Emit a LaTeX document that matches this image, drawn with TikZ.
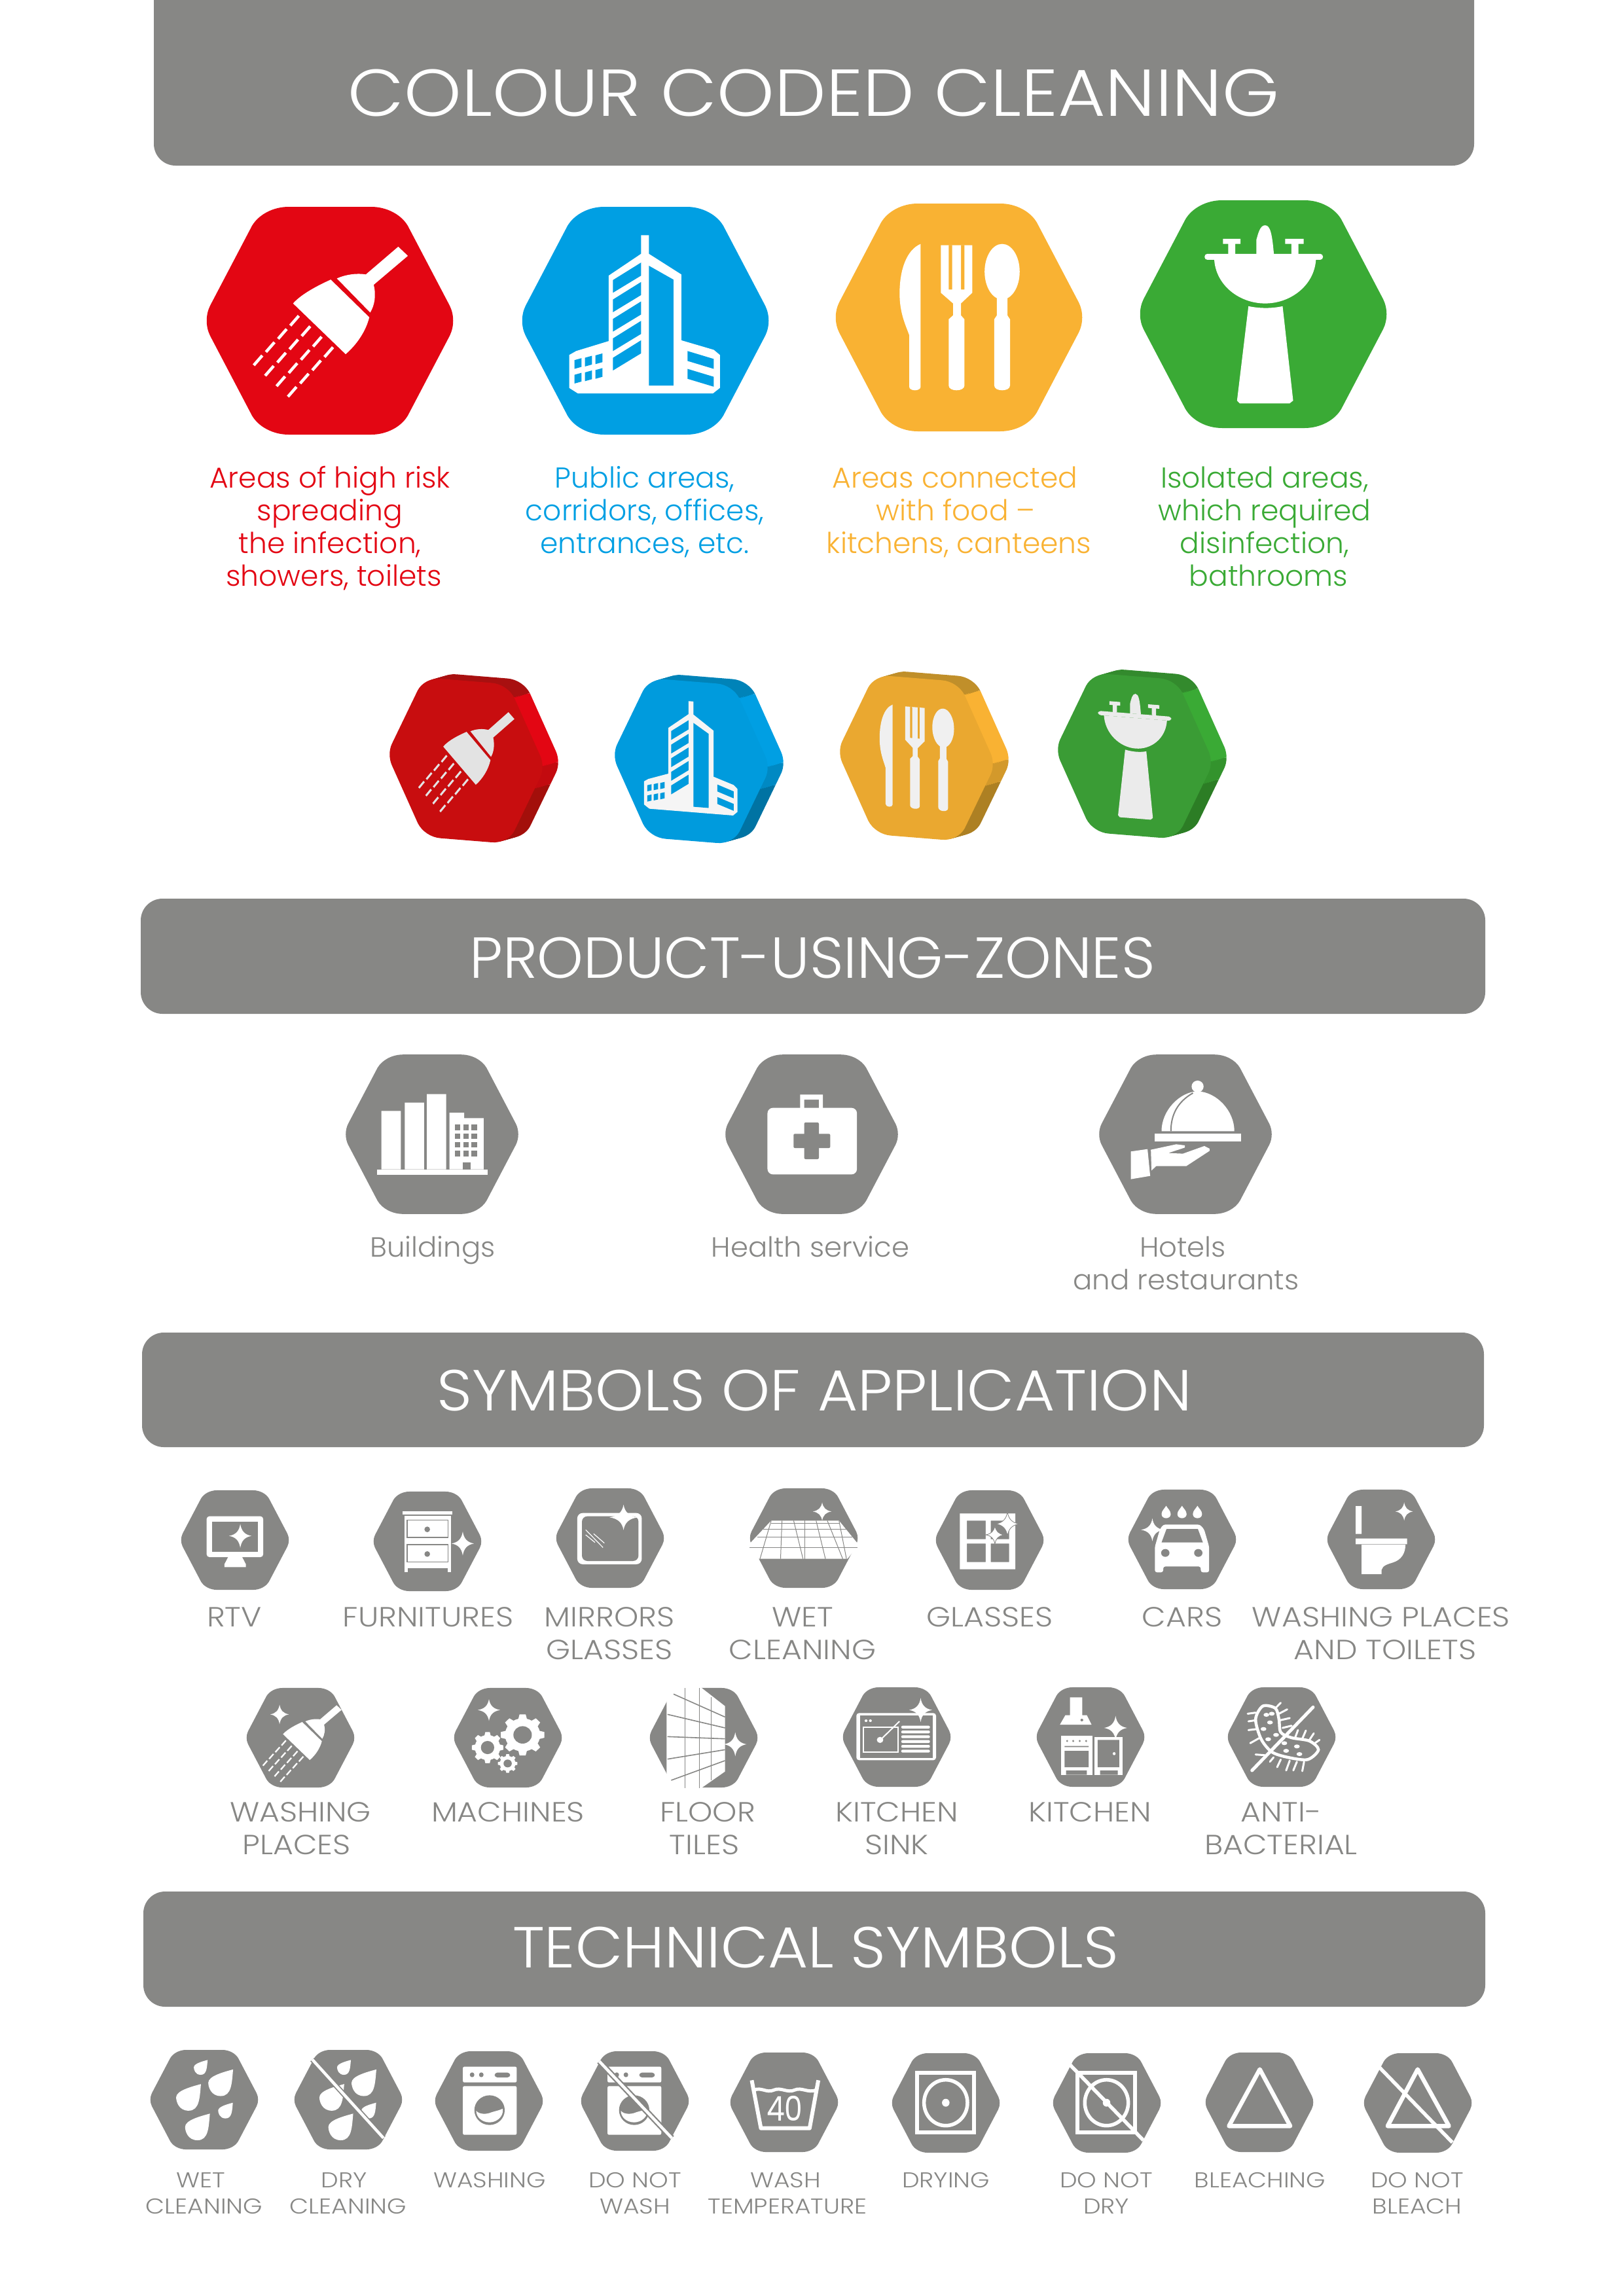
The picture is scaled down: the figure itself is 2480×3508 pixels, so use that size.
\documentclass[tikz,border=0pt]{standalone}
\usepackage{graphicx}
\usepackage{fontspec}
\setmainfont{Poppins Light}
\newfontfamily\numfont{Poppins}
\definecolor{hxgrey}{HTML}{878785}
\definecolor{hxred}{HTML}{E30613}
\definecolor{hxblue}{HTML}{009FE3}
\definecolor{hxorange}{HTML}{F9B233}
\definecolor{hxgreen}{HTML}{3AAA35}
\definecolor{fcred}{HTML}{C80D0F}
\definecolor{fcblue}{HTML}{009BDD}
\definecolor{fcorange}{HTML}{EAA830}
\definecolor{fcgreen}{HTML}{3A9C35}
\definecolor{lored}{HTML}{A30F0B}
\definecolor{loblue}{HTML}{0073A3}
\definecolor{loorange}{HTML}{AD8023}
\definecolor{logreen}{HTML}{2C7D25}
\definecolor{upred}{HTML}{A81010}
\definecolor{upblue}{HTML}{0083B8}
\definecolor{uporange}{HTML}{C08F2A}
\definecolor{upgreen}{HTML}{338A2D}
\definecolor{icred}{HTML}{E3E3E3}
\definecolor{icblue}{HTML}{F5F5F5}
\definecolor{icorange}{HTML}{F0F0F0}
\definecolor{icgreen}{HTML}{EBEBEB}
\colorlet{icofg}{white}
\colorlet{icobg}{hxblue}

\tikzset{
  wl/.style={draw=white,line width=#1*.24pt},
  gl/.style={draw=hxgrey,line width=#1*.24pt},
  bartext/.style={anchor=base,text=white,font=\fontsize{#1}{#1}\selectfont},
  biglabel/.style={anchor=base,text=#1,font=\fontsize{10.6}{12}\selectfont},
  smlabel/.style={anchor=base,text=hxgrey,font=\fontsize{10.2}{12}\selectfont},
  tinylabel/.style={anchor=base,text=hxgrey,font=\fontsize{7.9}{10}\selectfont}
}
\newcommand{\capw}[1]{\scalebox{1.12}[1]{#1}}
\newcommand{\tinyw}[1]{\scalebox{1.15}[1]{#1}}

% hexagon round (0,0), 190 wide to each side
\newcommand{\hexpath}{(-63,-174) -- (63,-174) .. controls (87,-174) and (109,-162) .. (119,-145)
  -- (183,-23) .. controls (190,-9) and (190,9) .. (183,23)
  -- (119,145) .. controls (109,162) and (87,174) .. (63,174)
  -- (-63,174) .. controls (-87,174) and (-109,162) .. (-119,145)
  -- (-183,23) .. controls (-190,9) and (-190,-9) .. (-183,-23)
  -- (-119,-145) .. controls (-109,-162) and (-87,-174) .. (-63,-174) -- cycle}
\newcommand{\sparkpath}{(0,-1) .. controls (.1,-.4) and (.4,-.1) .. (1,0) .. controls (.4,.1) and (.1,.4) .. (0,1)
  .. controls (-.1,.4) and (-.4,.1) .. (-1,0) .. controls (-.4,-.1) and (-.1,-.4) .. (0,-1) -- cycle}
\newcommand{\hexa}[4]{\fill[#4,shift={(#1,#2)},scale=#3] \hexpath;}
\newcommand{\twinkle}[4]{\fill[white,shift={(#1,#2)},xscale=#3,yscale=#4] \sparkpath;}
\newcommand{\twinkleo}[4]{\fill[white,draw=hxgrey,line width=.2pt,shift={(#1,#2)},xscale=#3,yscale=#4] \sparkpath;}
\newcommand{\tear}[4]{\fill[white,shift={(#1,#2)},xscale=#3,yscale=#4]
  (1,-1) .. controls (.9,0) and (.9,1) .. (0,1) .. controls (-.8,1) and (-1,.3) .. (-1,0)
  .. controls (-1,-.5) and (.2,-.8) .. (1,-1) -- cycle;}
\newcommand{\gear}[4]{
  \begin{scope}[shift={(#1,#2)},xscale=#3,yscale=#4]
    \fill[white] (0,0) circle (.8);
    \foreach \ang in {0,45,...,315}
      \fill[white] (\ang-16:.75) -- (\ang-8:1) -- (\ang+8:1) -- (\ang+16:.75) -- cycle;
    \fill[hxgrey] (0,0) circle (.42);
  \end{scope}
}

% the four big icons, drawn round (0,0)
\newcommand{\icoBroom}{
  \begin{scope}[shift={(-304,-490)},xscale=1.339,yscale=.606]
    \fill[icofg] (185,765) .. controls (195,740) and (215,718) .. (228,705) -- (272,800)
      .. controls (268,835) and (258,868) .. (245,893) -- cycle;
    \fill[icofg] (235,702) .. controls (245,692) and (258,688) .. (268,692) -- (305,622) -- (316,645) -- (277,718)
      .. controls (280,745) and (278,770) .. (273,788) -- cycle;
  \end{scope}
  \foreach \ii/\jj in {0/0,1/0,1/1,2/0,2/1,2/2,3/0,3/1,3/2,3/3,4/1,4/2,4/3,5/2,5/3,6/3}
    \fill[icofg,shift={(\ii*17.4-\jj*36-54,\ii*16+\jj*4.2)}] (-4.8,8.9) -- (-8.2,6) -- (4.8,-8.9) -- (8.2,-6) -- cycle;
}
\newcommand{\icoTower}{
  \begin{scope}[shift={(-786,-490)},xscale=1.339,yscale=.606]
    \fill[icofg] (582,593) -- (591,593) -- (591,640) -- (628,692) -- (628,858) -- (665,882) -- (672,895)
      -- (672,978) -- (664,992) -- (510,992) -- (500,978) -- (500,895) -- (508,885) -- (545,860) -- (545,695) -- (582,640) -- cycle;
    \fill[icobg] (591,670) -- (619,705) -- (619,972) -- (591,972) -- cycle;
    \fill[icobg] (635,885) -- (665,905) -- (665,930) -- (635,910) -- cycle;
    \fill[icobg] (635,930) -- (665,950) -- (665,975) -- (635,955) -- cycle;
    \foreach \kk in {0,...,4}
      \fill[icobg] (550,706+49*\kk) -- (582,662+49*\kk) -- (582,695+49*\kk) -- (550,738+49*\kk) -- cycle;
    \foreach \cc in {0,1,2}{
      \fill[icobg] (506+12*\cc,908-6*\cc) -- (514+12*\cc,903-6*\cc) -- (514+12*\cc,925-6*\cc) -- (506+12*\cc,930-6*\cc) -- cycle;
      \fill[icobg] (506+12*\cc,945-6*\cc) -- (514+12*\cc,940-6*\cc) -- (514+12*\cc,962-6*\cc) -- (506+12*\cc,967-6*\cc) -- cycle;
    }
  \end{scope}
}
\newcommand{\icoFood}{
  \begin{scope}[shift={(-1265,-485)},xscale=1.339,yscale=.606]
    \fill[icofg] (901,615) .. controls (885,630) and (877,680) .. (877,740) .. controls (877,790) and (884,820) .. (888,845)
      -- (888,975) .. controls (888,987) and (901,987) .. (901,975) -- cycle;
    \fill[icofg,even odd rule] (924,618) -- (924,738) -- (938,765) -- (938,795) -- (933,805) -- (933,972)
      .. controls (933,988) and (951,988) .. (951,972) -- (951,805) -- (947,795) -- (947,765) -- (960,738) -- (960,618) -- cycle
      (933,618) rectangle (937,730) (947,618) rectangle (951,730);
    \fill[icofg] (994,685) ellipse [x radius=20,y radius=70];
    \fill[icofg] (988,745) -- (988,795) -- (985,805) -- (985,972) .. controls (985,988) and (1003,988) .. (1003,972)
      -- (1003,805) -- (1000,795) -- (1000,745) -- cycle;
  \end{scope}
}
\newcommand{\icoSink}{
  \begin{scope}[shift={(-1730,-480)},xscale=1.339,yscale=.606]
    \fill[icofg,rounded corners=1pt] (1225,640) rectangle (1360,655);
    \fill[icofg] (1236,655) .. controls (1238,720) and (1265,765) .. (1294,765) .. controls (1323,765) and (1350,720) .. (1352,655) -- cycle;
    \fill[icofg] (1246,602) rectangle (1266,615) (1252,615) rectangle (1260,640);
    \fill[icofg] (1317,602) rectangle (1338,615) (1324,615) rectangle (1332,640);
    \fill[icofg] (1284,640) -- (1284,605) .. controls (1286,590) and (1288,568) .. (1294,568)
      .. controls (1300,568) and (1302,590) .. (1304,640) -- cycle;
    \fill[icofg] (1275,772) .. controls (1288,778) and (1302,778) .. (1314,772) -- (1326,1010) -- (1322,1017) -- (1265,1017) -- (1262,1010) -- cycle;
  \end{scope}
}
% thick hexagon of the second row
\newcommand{\threeD}[8]{
  \foreach \st in {8,7,...,1}{
    \begin{scope}[shift={(#1+\st*3,#2-\st*.85)},cm={.62,-.05,0,.70,(0,0)}]
      \begin{scope} \clip (-260,-200) rectangle (260,-145); \fill[#5] \hexpath; \end{scope}
      \begin{scope} \clip (-260,-145) rectangle (260,0); \fill[#3] \hexpath; \end{scope}
      \begin{scope} \clip (-260,0) rectangle (260,50); \fill[#3!50!#4] \hexpath; \end{scope}
      \begin{scope} \clip (-260,50) rectangle (260,200); \fill[#4] \hexpath; \end{scope}
    \end{scope}
  }
  \begin{scope}[shift={(#1,#2)},cm={.62,-.05,0,.70,(0,0)}]
    \fill[#6] \hexpath;
    \colorlet{icofg}{#8}
    \colorlet{icobg}{#6}
    #7
  \end{scope}
}

\begin{document}
\begin{tikzpicture}[x=0.0084677cm,y=-0.0084677cm]
  \useasboundingbox (0,0) rectangle (2480,3508);

  % header bars
  \fill[hxgrey,rounded corners=8pt] (235,-60) rectangle (2252,253);
  \fill[hxgrey,rounded corners=8pt] (215,1373) rectangle (2269,1549);
  \fill[hxgrey,rounded corners=8pt] (217,2036) rectangle (2267,2211);
  \fill[hxgrey,rounded corners=8pt] (219,2890) rectangle (2269,3066);
  \node[bartext=24.4] (title) at (1243,177) {\scalebox{1.10}[1]{COLOUR CODED CLEANING}};
  \node[bartext=21.3] (zones) at (1241,1494) {\scalebox{1.018}[1]{PRODUCT-USING-ZONES}};
  \node[bartext=21.3] (symbols) at (1244,2155) {\scalebox{1.064}[1]{SYMBOLS OF APPLICATION}};
  \node[bartext=21.3] (technical) at (1246,3006) {\scalebox{1.062}[1]{TECHNICAL SYMBOLS}};

  % big coloured hexagons
  \hexa{504}{490}{1}{hxred} \begin{scope}[shift={(504,490)}] \icoBroom \end{scope}
  \hexa{986}{490}{1}{hxblue} \begin{scope}[shift={(986,490)}] \icoTower \end{scope}
  \hexa{1465}{485}{1}{hxorange} \begin{scope}[shift={(1465,485)}] \icoFood \end{scope}
  \hexa{1930}{480}{1}{hxgreen} \begin{scope}[shift={(1930,480)}] \icoSink \end{scope}

  \foreach \nm/\x/\y/\txt in {ra/504/745/{Areas of high risk},rb/504/795/{spreading},rc/504/845/{the infection,},rd/510/895/{showers, toilets}}
    \node[biglabel=hxred] (\nm) at (\x,\y) {\txt};
  \foreach \nm/\x/\y/\txt in {ba/985/745/{Public areas,},bb/985/795/{corridors, offices,},bc/985/845/{entrances, etc.}}
    \node[biglabel=hxblue] (\nm) at (\x,\y) {\txt};
  \foreach \nm/\x/\y/\txt in {oa/1459/745/{Areas connected},ob/1460/795/{with food --},oc/1465/845/{kitchens, canteens}}
    \node[biglabel=hxorange] (\nm) at (\x,\y) {\txt};
  \foreach \nm/\x/\y/\txt in {ga/1932/745/{Isolated areas,},gb/1932/795/{which required},gc/1932/845/{disinfection,},gd/1938/895/{bathrooms}}
    \node[biglabel=hxgreen] (\nm) at (\x,\y) {\txt};

  % second row, thick hexagons
  \threeD{712}{1162}{hxred}{lored}{upred}{fcred}{\icoBroom}{icred}
  \threeD{1056}{1163}{hxblue}{loblue}{upblue}{fcblue}{\icoTower}{icblue}
  \threeD{1400}{1158}{hxorange}{loorange}{uporange}{fcorange}{\icoFood}{icorange}
  \threeD{1733}{1155}{hxgreen}{logreen}{upgreen}{fcgreen}{\icoSink}{icgreen}

  % zones
  \hexa{660}{1733}{.7}{hxgrey}
  \hexa{1240}{1733}{.7}{hxgrey}
  \hexa{1811}{1733}{.7}{hxgrey}
  \begin{scope}[shift={(450,1580)},xscale=1.0204,yscale=.3333]
    \fill[white] (130,352) rectangle (159,620) (165,314) rectangle (194,620) (198,275) rectangle (227,620);
    \fill[white] (232,360) -- (254,360) -- (254,385) -- (283,385) -- (283,620) -- (232,620) -- cycle;
    \fill[white] (123,622) rectangle (289,645);
    \foreach \cc in {240,253,265} \foreach \rr in {415,455,495,535}
      \fill[hxgrey] (\cc,\rr) rectangle (\cc+8,\rr+25);
    \fill[hxgrey] (252,588) rectangle (264,620);
    % case
    \fill[white,even odd rule] (757,277) rectangle (791,340) (763,300) rectangle (785,340);
    \fill[white,rounded corners=2pt] (708,338) rectangle (842,643);
    \fill[hxgrey,rounded corners=.5pt] (763,405) rectangle (785,573);
    \fill[hxgrey,rounded corners=.5pt] (747,457) rectangle (802,522);
    % tray
    \fill[white] (1352,240) ellipse [x radius=9,y radius=27];
    \fill[white] (1298,445) .. controls (1298,350) and (1325,265) .. (1352,262) .. controls (1380,265) and (1407,350) .. (1407,445) -- cycle;
    \draw[gl=2] (1345,270) .. controls (1322,310) and (1312,370) .. (1312,445);
    \fill[white] (1288,456) rectangle (1417,491);
    \fill[white] (1252,538) -- (1277,527) -- (1281,650) -- (1252,665) -- cycle;
    \fill[white] (1282,530) -- (1320,505) -- (1333,510) -- (1333,520) -- (1308,545) -- (1330,548) -- (1362,513) -- (1370,525)
      -- (1370,535) -- (1335,605) -- (1290,605) -- (1283,625) -- cycle;
  \end{scope}
  \foreach \nm/\x/\y/\txt in {za/661/1920/{Buildings},zb/1238/1920/{Health service},zc/1807/1920/{Hotels},zd/1812/1970/{and restaurants}}
    \node[smlabel] (\nm) at (\x,\y) {\scalebox{1.025}[1]{\txt}};

  % symbols, first row
  \foreach \x/\y in {359/2353,653/2355,932/2350,1228/2350,1512/2353,1806/2352,2110/2352}{
    \hexa{\x}{\y}{.437}{hxgrey}
  }
  \begin{scope}[shift={(220,2250)},xscale=.714,yscale=.3333]
    \fill[white,rounded corners=1pt] (134,200) rectangle (255,387);
    \fill[hxgrey] (146,224) rectangle (244,364);
    \twinkle{206}{290}{24}{55}
    \fill[white] (180,387) -- (172,420) -- (172,433) -- (218,433) -- (218,420) -- (210,387) -- cycle;
    % chest
    \fill[white] (553,176) rectangle (660,192);
    \fill[white] (557,197) rectangle (657,455);
    \fill[hxgrey] (565,437) rectangle (650,455);
    \draw[gl=1.2] (563,217) rectangle (650,297) (563,330) rectangle (650,410);
    \fill[hxgrey] (606,260) ellipse [x radius=6,y radius=13] (606,373) ellipse [x radius=6,y radius=13];
    \twinkle{682}{325}{24}{55}
    % mirror
    \fill[white,rounded corners=2pt] (927,185) rectangle (1065,420);
    \fill[hxgrey,rounded corners=2pt] (937,200) rectangle (1058,405);
    \twinkle{1026}{205}{30}{58}
    \draw[wl=1.2] (945,262) -- (982,343) (962,280) -- (985,323) (945,285) -- (965,320);
    % floor
    \fill[white] (1342,220) -- (1487,220) -- (1527,325) -- (1525,342) -- (1505,395) -- (1315,395) -- (1298,342) -- (1296,325) -- cycle;
    \foreach \ta/\tb in {1365/1362,1390/1410,1414/1414,1438/1458,1462/1495}
      \draw[gl=1] (\ta,220) -- (\tb,395);
    \draw[gl=1] (1342,233) -- (1487,233) (1325,260) -- (1503,260) (1312,295) -- (1515,295) (1296,342) -- (1527,342);
    \draw[gl=1] (1342,220) -- (1318,395) (1487,220) -- (1503,395);
    \twinkle{1451}{178}{20}{42}
  \end{scope}
  \begin{scope}[shift={(1340,2250)},xscale=.638,yscale=.3333]
    \fill[white,even odd rule] (198,187) rectangle (331,443) (215,220) rectangle (260,305) (272,220) rectangle (316,305)
      (215,325) rectangle (260,410) (272,325) rectangle (316,410);
    \twinkleo{312}{235}{28}{55}
    \twinkleo{282}{285}{22}{42}
    % car
    \foreach \x in {692,730,767}
      \fill[white] (\x,152) .. controls (\x+4,165) and (\x+11,175) .. (\x+11,190) .. controls (\x+11,215) and (\x-11,215) .. (\x-11,190)
        .. controls (\x-11,175) and (\x-4,165) .. (\x,152) -- cycle;
    \fill[white,rounded corners=.8pt] (685,238) -- (773,238) -- (783,260) -- (795,340) -- (795,457) -- (775,457) -- (775,430) -- (685,430)
      -- (685,457) -- (665,457) -- (665,340) -- (677,260) -- cycle;
    \fill[hxgrey] (693,258) -- (768,258) -- (780,320) -- (681,320) -- cycle;
    \fill[hxgrey] (690,368) ellipse [x radius=10,y radius=18] (769,368) ellipse [x radius=10,y radius=18];
    \twinkle{659}{262}{27}{52}
    % toilet
    \fill[white] (1146,153) rectangle (1160,281) (1146,302) rectangle (1269,328);
    \fill[white] (1160,330) -- (1160,465) -- (1208,465) -- (1208,445) .. controls (1210,425) and (1225,418) .. (1235,412)
      .. controls (1255,400) and (1265,370) .. (1265,330) -- cycle;
    \twinkle{1262}{178}{21}{42}
  \end{scope}
  \foreach \nm/\x/\y/\txt in {sa/358/2485/{RTV},sb/654/2485/{FURNITURES},sc/931/2485/{MIRRORS},sd/931/2535/{GLASSES},se/1226/2485/{WET},sf/1226/2535/{CLEANING},
      sg/1512/2485/{GLASSES},sh/1806/2485/{CARS},si/2110/2485/{WASHING PLACES},sj/2116/2535/{AND TOILETS}}
    \node[smlabel] (\nm) at (\x,\y) {\capw{\txt}};

  % symbols, second row
  \foreach \x/\y in {459/2655,776/2655,1075/2655,1370/2654,1666/2654,1958/2654}{
    \hexa{\x}{\y}{.437}{hxgrey}
  }
  \begin{scope}[shift={(461,2663)},scale=.51] \icoBroom \end{scope}
  \begin{scope}[shift={(340,2560)},xscale=.714,yscale=.3333]
    \twinkle{122}{178}{20}{45}
    \gear{642}{272}{47}{95}
    \gear{567}{330}{34}{72}
    \gear{610}{403}{21}{43}
    \twinkle{570}{158}{24}{50}
    % tiles
    \fill[white] (950,40) -- (1015,40) -- (1075,140) -- (1075,440) -- (1015,530) -- (950,530) -- cycle;
    \draw[gl=1] (990,57) -- (990,515) (1020,57) -- (1020,515) (1046,100) -- (1046,480);
    \draw[gl=1.6] (965,85) -- (1075,190) (952,178) -- (1075,240) (952,280) -- (1075,290) (952,383) -- (1075,340) (960,480) -- (1075,390);
    \twinkle{1097}{315}{24}{55}
  \end{scope}
  \begin{scope}[shift={(1260,2560)},xscale=.5485,yscale=.3333]
    \fill[white,rounded corners=1pt] (88,172) rectangle (310,388);
    \fill[hxgrey] (98,182) rectangle (300,378);
    \draw[wl=2] (108,238) rectangle (205,350);
    \fill[white] (115,207) ellipse [x radius=4,y radius=6] (127,207) ellipse [x radius=4,y radius=6];
    \draw[wl=2] (155,295) -- (208,210);
    \fill[white] (154,295) ellipse [x radius=9,y radius=14];
    \foreach \yy in {230,252,274,296,318,340}
      \fill[white,rounded corners=.5pt] (213,\yy) rectangle (293,\yy+13);
    \twinkle{267}{158}{32}{55}
    % kitchen
    \fill[white] (683,100) -- (717,100) -- (717,182) -- (730,182) -- (743,225) -- (655,225) -- (670,182) -- (683,182) -- cycle;
    \fill[hxgrey] (716,204) ellipse [x radius=4,y radius=6];
    \fill[white] (658,275) rectangle (745,455);
    \fill[hxgrey] (672,435) rectangle (730,455) (668,345) rectangle (735,420) (668,323) rectangle (735,328);
    \foreach \x in {675,692,710,728} \fill[hxgrey] (\x,300) ellipse [x radius=3,y radius=5];
    \fill[white] (752,283) rectangle (830,455);
    \fill[hxgrey] (760,295) rectangle (820,420) (767,435) rectangle (816,455);
    \fill[white] (806,358) ellipse [x radius=4,y radius=7];
    \twinkle{810}{240}{32}{55}
    % germ
    \draw[wl=4.5] plot[smooth cycle] coordinates {(1220,140) (1255,150) (1265,200) (1270,260) (1300,285) (1350,300) (1375,340) (1345,385) (1290,375) (1245,350) (1215,290) (1200,200)};
    \foreach \x/\y in {1245/175,1230/180,1240/215,1222/245,1257/272,1235/292,1280/310,1315/325,1285/345,1322/360}
      \fill[white] (\x,\y) ellipse [x radius=8,y radius=9];
    \draw[wl=3,line cap=round] (1200,170) -- (1178,175) (1200,205) -- (1180,210) (1205,245) -- (1180,250) (1212,285) -- (1185,310)
      (1255,150) -- (1270,125) (1265,175) -- (1288,155) (1268,205) -- (1295,195) (1275,240) -- (1300,230)
      (1310,285) -- (1318,250) (1330,290) -- (1340,252) (1350,295) -- (1362,265) (1365,310) -- (1378,295)
      (1225,365) -- (1200,362) (1250,375) -- (1240,395) (1270,385) -- (1260,420) (1295,390) -- (1285,435) (1315,395) -- (1305,435) (1335,395) -- (1330,438);
    \draw[wl=5,line cap=round] (1360,145) -- (1190,435);
  \end{scope}
  \foreach \nm/\x/\y/\txt in {ta/459/2783/{WASHING},tb/453/2833/{PLACES},tc/776/2783/{MACHINES},td/1081/2783/{FLOOR},te/1076/2833/{TILES},
      tf/1370/2783/{KITCHEN},tg/1370/2833/{SINK},th/1665/2783/{KITCHEN},ti/1957/2783/{ANTI-},tj/1957/2833/{BACTERIAL}}
    \node[smlabel] (\nm) at (\x,\y) {\capw{\txt}};

  % technical symbols
  \foreach \x/\y in {312/3208,532/3208,747/3210,970/3210,1198/3212,1445/3213,1691/3213,1924/3212,2166/3213}{
    \hexa{\x}{\y}{.437}{hxgrey}
  }
  \begin{scope}[shift={(200,3110)},xscale=.7015,yscale=.3333]
    \foreach \dx in {0,312}{
      \tear{152+\dx}{146}{15}{34}
      \tear{195.5+\dx}{216.5}{27}{61}
      \tear{125.5+\dx}{283.5}{27}{61}
      \tear{206+\dx}{344}{16}{36}
      \tear{145+\dx}{419}{27}{61}
    }
    \draw[gl=8] (395,110) -- (550,470);
    \draw[wl=4.5] (395,110) -- (550,470);
    \foreach \dx in {0,315}{
      \begin{scope}[shift={(\dx,0)}]
      \fill[white,rounded corners=.5pt] (723,143) rectangle (840,215);
      \fill[white,rounded corners=.5pt] (723,232) rectangle (840,455);
      \fill[hxgrey] (743,180) ellipse [x radius=5,y radius=11] (763,180) ellipse [x radius=5,y radius=11];
      \fill[hxgrey,rounded corners=1pt] (792,170) rectangle (826,192);
      \fill[hxgrey] (781,342) ellipse [x radius=33,y radius=68];
      \fill[white] (752,345) .. controls (758,362) and (775,362) .. (785,352) .. controls (795,345) and (800,345) .. (810,335)
        .. controls (812,375) and (795,398) .. (781,398) .. controls (765,398) and (752,375) .. (752,345) -- cycle;
      \end{scope}
    }
    \draw[gl=9] (1020,118) -- (1178,470);
    \draw[wl=4.5] (1020,118) -- (1178,470);
    % tub
    \draw[wl=6,line join=round] (1352,205) -- (1372,425) -- (1478,425) -- (1497,205);
    \draw[wl=5] (1357,250) .. controls (1372,235) and (1385,265) .. (1400,250) .. controls (1415,235) and (1430,265) .. (1445,250)
      .. controls (1460,235) and (1475,265) .. (1492,250);
    \node[text=white,font=\numfont\fontsize{12.5}{14}\selectfont] (forty) at (1424,335) {\scalebox{.85}[1]{40}};
  \end{scope}
  \begin{scope}[shift={(1300,3110)},xscale=.638,yscale=.3333]
    \foreach \dx in {0,385}{
      \begin{scope}[shift={(\dx,0)}]
      \draw[wl=6] (158,172) rectangle (295,445);
      \draw[wl=5.5] (227,308) ellipse [x radius=52,y radius=105];
      \fill[white] (227,308) ellipse [x radius=9,y radius=18];
      \end{scope}
    }
    \draw[wl=5.5] (525,135) -- (700,480);
    \draw[wl=6.5,line join=round] (979,155) -- (905,415) -- (1052,415) -- cycle;
    \draw[wl=6.5,line join=round] (1357,155) -- (1285,415) -- (1432,415) -- cycle;
    \draw[wl=5.5] (1265,145) -- (1440,490);
  \end{scope}
  \foreach \nm/\x/\y/\txt in {ua/307/3342/{WET},ub/312/3382/{CLEANING},uc/526/3342/{DRY},ud/532/3382/{CLEANING},ue/748/3342/{WASHING},
      uf/970/3342/{DO NOT},ug/970/3382/{WASH},uh/1200/3342/{WASH},ui/1203/3382/{TEMPERATURE},uj/1445/3342/{DRYING},
      uk/1690/3342/{DO NOT},ul/1690/3382/{DRY},um/1925/3342/{BLEACHING},un/2165/3342/{DO NOT},uo/2165/3382/{BLEACH}}
    \node[tinylabel] (\nm) at (\x,\y) {\tinyw{\txt}};
\end{tikzpicture}
\end{document}
